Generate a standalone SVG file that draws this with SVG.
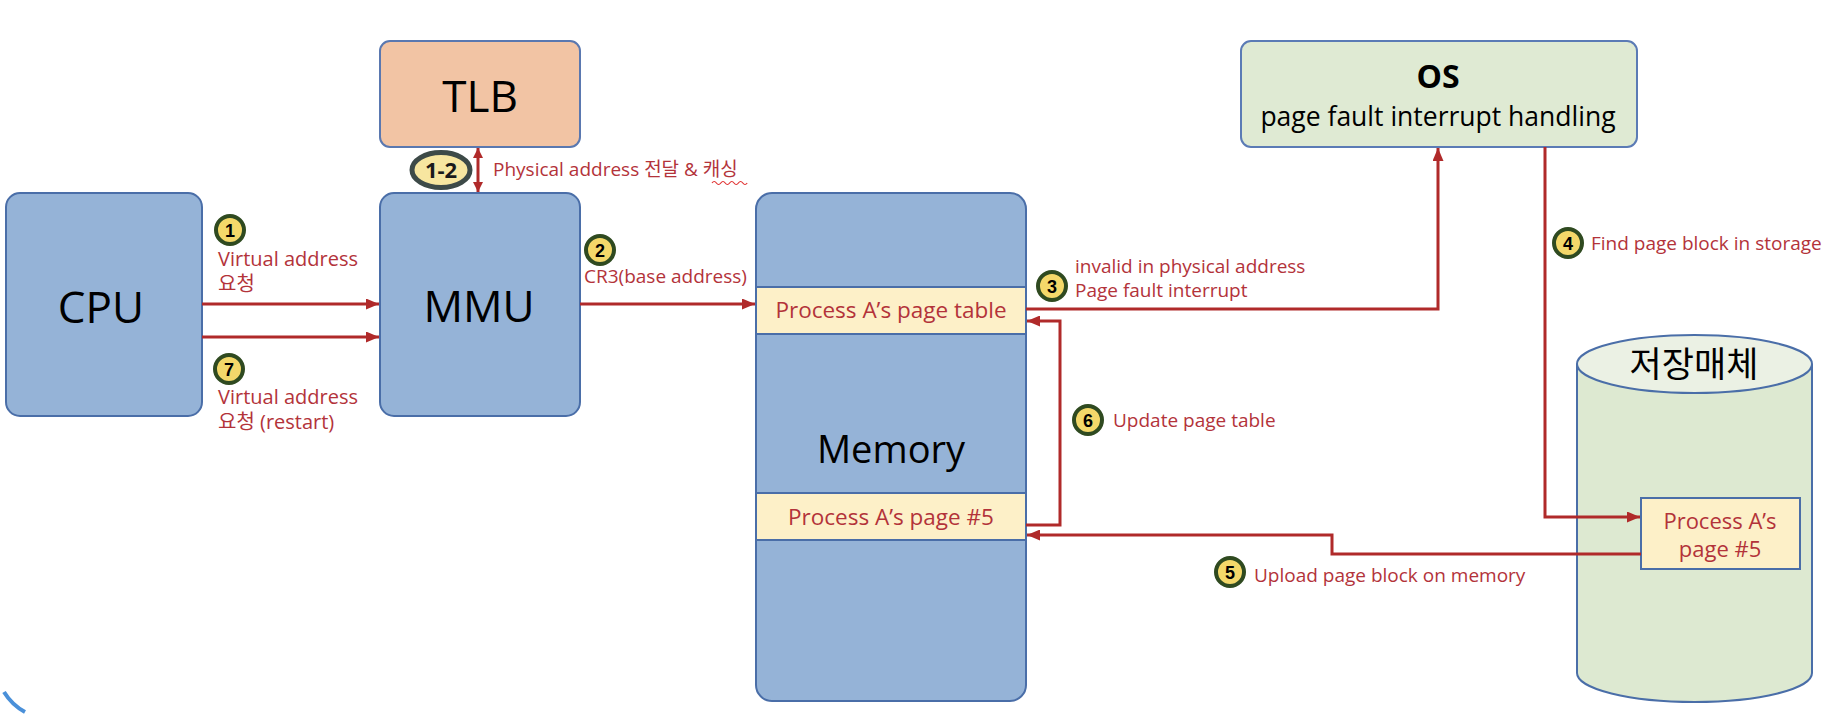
<svg xmlns="http://www.w3.org/2000/svg" width="1838" height="719" viewBox="0 0 1838 719">
<defs>
<style>
text{font-family:"Open Sans","Noto Sans CJK KR",sans-serif}
.box{fill:#95b3d7;stroke:#4a6ea8;stroke-width:2}
.band{fill:#fdf0c8;stroke:#4a6ea8;stroke-width:2}
.big{font-size:44px;fill:#000;text-anchor:middle}
.lbl{font-size:19px;fill:#b3333a}
.lblc{font-size:20px;fill:#b3333a}
.btxt{font-size:22.5px;fill:#b3333a;text-anchor:middle}
.badge{fill:#f4d86a;stroke:#2f4a20;stroke-width:4}
.bnum{font-family:"Liberation Sans",sans-serif;font-size:18px;font-weight:bold;fill:#000;text-anchor:middle}
.conn{fill:none;stroke:#b02a2a;stroke-width:3}
</style>
<marker id="ah" markerUnits="userSpaceOnUse" markerWidth="13" markerHeight="11" refX="13" refY="5.5" orient="auto"><path d="M0,0 L13,5.5 L0,11 z" fill="#b02a2a"/></marker>
<marker id="ahs" markerUnits="userSpaceOnUse" markerWidth="10" markerHeight="10" refX="10" refY="5" orient="auto-start-reverse"><path d="M0,0 L10,5 L0,10 z" fill="#b02a2a"/></marker>
</defs>
<rect width="1838" height="719" fill="#fff"/>

<g id="tlb">
<rect x="380" y="41" width="200" height="106" rx="10" fill="#f2c4a4" stroke="#5a78b0" stroke-width="2"/>
<text class="big" x="480" y="112">TLB</text>
</g>

<g id="cpu">
<rect class="box" x="6" y="193" width="196" height="223" rx="14"/>
<text class="big" x="101" y="323">CPU</text>
</g>

<g id="mmu">
<rect class="box" x="380" y="193" width="200" height="223" rx="14"/>
<text class="big" x="479" y="322">MMU</text>
</g>

<g id="memory">
<rect class="box" x="756" y="193" width="270" height="508" rx="16"/>
<rect class="band" x="756" y="287" width="270" height="47"/>
<text class="btxt" x="891" y="318">Process A’s page table</text>
<rect class="band" x="756" y="493" width="270" height="47"/>
<text class="btxt" x="891" y="525">Process A’s page #5</text>
<text x="891" y="463" font-size="38" text-anchor="middle" fill="#000">Memory</text>
</g>

<g id="os">
<rect x="1241" y="41" width="396" height="106" rx="10" fill="#dfead3" stroke="#5b7bb5" stroke-width="2"/>
<text x="1438" y="88" font-size="32" font-weight="bold" text-anchor="middle" fill="#000">OS</text>
<text x="1438" y="126" font-size="26.5" text-anchor="middle" fill="#000">page fault interrupt handling</text>
</g>

<g id="storage">
<path d="M1577,364 V673 A117.5,29 0 0 0 1812,673 V364" fill="#dde9d1" stroke="#4a6ea8" stroke-width="2"/>
<ellipse cx="1694.5" cy="364" rx="117.5" ry="29" fill="#ebf1e4" stroke="#4a6ea8" stroke-width="2"/>
<text x="1694" y="377" font-size="35" text-anchor="middle" fill="#000">저장매체</text>
<rect x="1641" y="498" width="159" height="71" fill="#fdf0c8" stroke="#4a6ea8" stroke-width="2"/>
<text x="1720" y="529" font-size="22" text-anchor="middle" fill="#b3333a">Process A’s</text>
<text x="1720" y="557" font-size="22" text-anchor="middle" fill="#b3333a">page #5</text>
</g>

<g id="label-1">
<circle class="badge" cx="230" cy="230" r="14"/>
<text class="bnum" x="230" y="236.5">1</text>
<text class="lblc" x="218" y="266">Virtual address</text>
<text class="lblc" x="218" y="291">요청</text>
</g>

<g id="label-7">
<circle class="badge" cx="229" cy="369" r="14"/>
<text class="bnum" x="229" y="375.5">7</text>
<text class="lblc" x="218" y="404">Virtual address</text>
<text class="lblc" x="218" y="429">요청 (restart)</text>
</g>

<g id="label-1-2">
<ellipse cx="441" cy="170" rx="29" ry="17.5" fill="#f7e6a0" stroke="#3d4a48" stroke-width="5"/>
<text x="441" y="178" font-family="Liberation Sans,sans-serif" font-size="22" font-weight="bold" text-anchor="middle" fill="#1a1a1a">1-2</text>
<text class="lbl" x="493" y="176">Physical address 전달 &amp; 캐싱</text>
<path d="M712,183 q2.2,-3 4.4,0 t4.4,0 t4.4,0 t4.4,0 t4.4,0 t4.4,0 t4.4,0 t4.4,0" fill="none" stroke="#e03030" stroke-width="1.2"/>
</g>

<g id="label-2">
<circle class="badge" cx="600" cy="250" r="14"/>
<text class="bnum" x="600" y="256.5">2</text>
<text class="lbl" x="584" y="283">CR3(base address)</text>
</g>

<g id="label-3">
<circle class="badge" cx="1052" cy="286" r="14"/>
<text class="bnum" x="1052" y="292.5">3</text>
<text class="lbl" x="1075" y="273">invalid in physical address</text>
<text class="lbl" x="1075" y="297">Page fault interrupt</text>
</g>

<g id="label-4">
<circle class="badge" cx="1568" cy="243" r="14"/>
<text class="bnum" x="1568" y="249.5">4</text>
<text class="lbl" x="1591" y="250">Find page block in storage</text>
</g>

<g id="label-5">
<circle class="badge" cx="1230" cy="572" r="14"/>
<text class="bnum" x="1230" y="578.5">5</text>
<text class="lbl" x="1254" y="582">Upload page block on memory</text>
</g>

<g id="label-6">
<circle class="badge" cx="1088" cy="420" r="14"/>
<text class="bnum" x="1088" y="426.5">6</text>
<text class="lbl" x="1113" y="427">Update page table</text>
</g>

<path d="M4,692 Q12,705 25,712" fill="none" stroke="#4a90d9" stroke-width="4"/>

<g id="connectors">
<path class="conn" d="M202,304 H379" marker-end="url(#ah)"/>
<path class="conn" d="M202,337 H379" marker-end="url(#ah)"/>
<path class="conn" d="M580,304 H755" marker-end="url(#ah)"/>
<path class="conn" d="M1026,309 H1438 V148" marker-end="url(#ah)"/>
<path class="conn" d="M1545,147 V517 H1640" marker-end="url(#ah)"/>
<path class="conn" d="M1641,554 H1332 V535 H1027" marker-end="url(#ah)"/>
<path class="conn" d="M1026,525 H1060 V321 H1027" marker-end="url(#ah)"/>
<path class="conn" d="M478,148 V192" marker-start="url(#ahs)" marker-end="url(#ahs)"/>
</g>
</svg>
